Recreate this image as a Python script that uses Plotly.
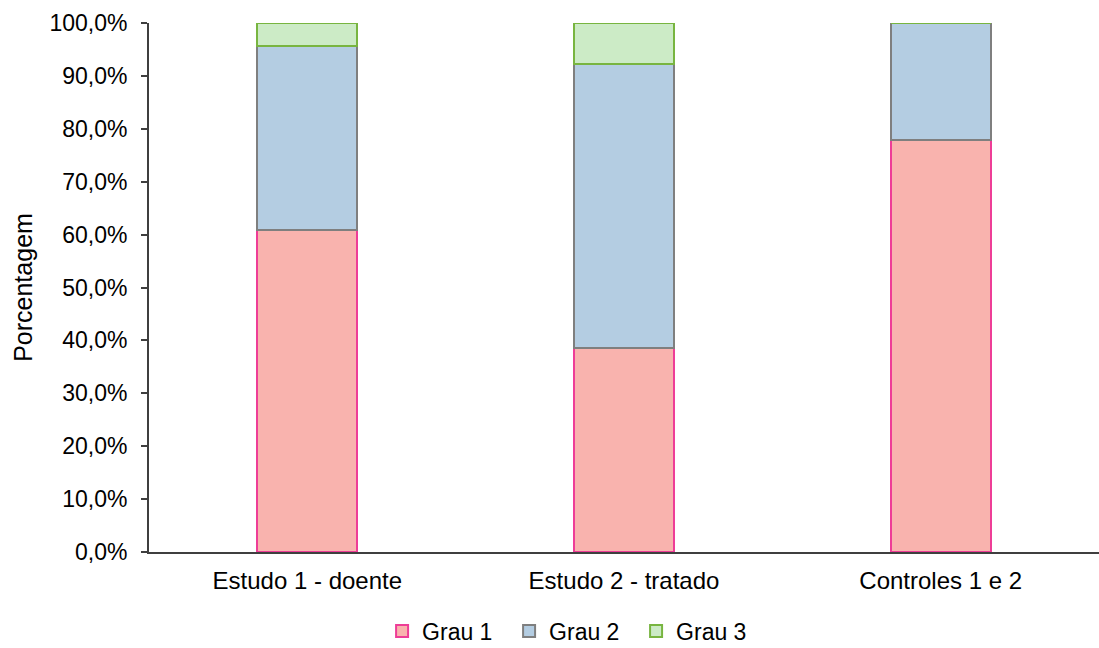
import plotly.graph_objects as go

# Grade distribution per group (fractions of each group)
categories = ["Estudo 1 - doente", "Estudo 2 - tratado", "Controles 1 e 2"]
grau1 = [0.609, 0.385, 0.778]
grau2 = [0.348, 0.538, 0.222]
grau3 = [0.043, 0.077, 0.0]

series = [
    ("Grau 1", grau1, "#F9B3AE", "#EE3D97"),
    ("Grau 2", grau2, "#B4CDE2", "#7F7F7F"),
    ("Grau 3", grau3, "#CCEBC6", "#78B540"),
]

font_family = "Liberation Sans, Arial, sans-serif"

fig = go.Figure()
for name, vals, fill, edge in series:
    fig.add_trace(go.Bar(
        name=name,
        x=categories,
        y=vals,
        width=0.315,
        marker=dict(color=fill, line=dict(color=edge, width=2)),
    ))

fig.update_layout(
    barmode="stack",
    width=1099,
    height=648,
    margin=dict(l=149, r=0, t=23, b=96),
    paper_bgcolor="white",
    plot_bgcolor="white",
    separators=",.",
    font=dict(family=font_family, size=22, color="#000000"),
    showlegend=True,
    legend=dict(
        orientation="h",
        x=0.521, xref="container", xanchor="center",
        y=0.026, yref="container", yanchor="middle",
        font=dict(size=23),
        traceorder="normal",
        itemwidth=30,
        entrywidth=82,
        bgcolor="rgba(0,0,0,0)",
    ),
    xaxis=dict(
        range=[-0.5, 2.5],
        showline=True, linecolor="#3f3f3f", linewidth=2,
        ticks="", showgrid=False,
        tickfont=dict(size=24),
        ticklabelstandoff=6,
    ),
    yaxis=dict(
        range=[0, 1],
        dtick=0.1,
        tickformat=".1%",
        showline=True, linecolor="#3f3f3f", linewidth=2,
        ticks="outside", ticklen=6, tickwidth=2, tickcolor="#3f3f3f",
        showgrid=False, zeroline=False,
        tickfont=dict(size=23),
        ticklabelstandoff=9,
        title=dict(text="Porcentagem", font=dict(size=25), standoff=10),
    ),
)

fig.write_html("out.html")
